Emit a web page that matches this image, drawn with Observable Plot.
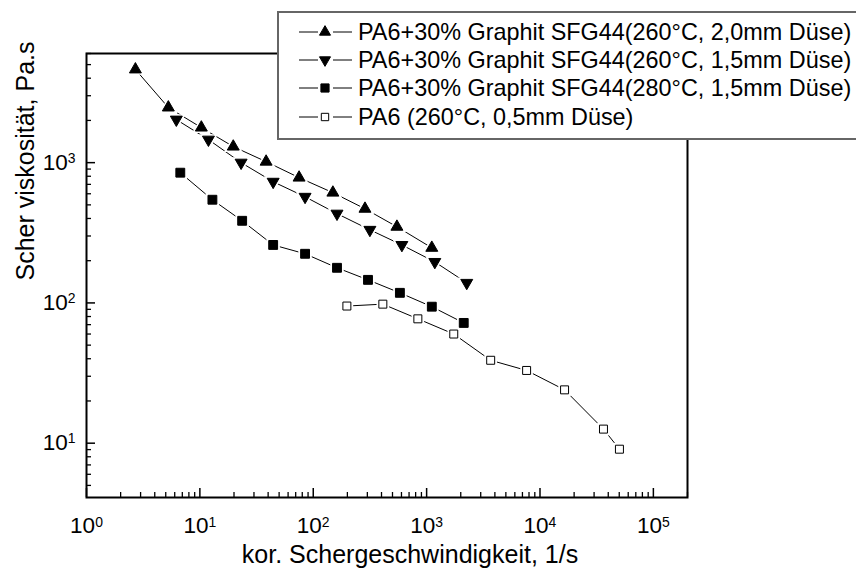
<!DOCTYPE html>
<html><head><meta charset="utf-8">
<script src="https://cdn.jsdelivr.net/npm/d3@7"></script>
<script src="https://cdn.jsdelivr.net/npm/@observablehq/plot@0.6"></script>
<style>
html,body{margin:0;padding:0;background:#fff;overflow:hidden}
#wrap{position:relative;width:856px;height:568px;overflow:hidden;font-family:"Liberation Sans",Arial,sans-serif}
#wrap svg{display:block}
#legend{position:absolute;left:0;top:0;pointer-events:none}
</style></head><body><div id="wrap"></div>
<script>
// ---- data ----
const seriesNames = [
  "PA6+30% Graphit SFG44(260°C, 2,0mm Düse)",
  "PA6+30% Graphit SFG44(260°C, 1,5mm Düse)",
  "PA6+30% Graphit SFG44(280°C, 1,5mm Düse)",
  "PA6 (260°C, 0,5mm Düse)"
];
const shear1 = [2.7, 5.27, 10.3, 19.7, 38.4, 75, 149, 286, 547, 1111];
const visc1  = [4617, 2472, 1778, 1301, 1016, 782, 611, 469, 349, 247];
const shear2 = [6.2, 11.9, 23.1, 44.3, 84.7, 162, 316, 605, 1181, 2259];
const visc2  = [2028, 1460, 1000, 731, 571, 433, 332, 259, 196, 139];
const shear3 = [6.72, 12.9, 23.6, 44.3, 84.7, 162, 304, 581, 1111, 2125];
const visc3  = [848, 544, 385, 259, 224, 178, 146, 118, 94, 72];
const shear4 = [198, 411, 837, 1735, 3673, 7620, 16470, 36300, 50200];
const visc4  = [95, 98, 77, 60, 39, 33, 24, 12.6, 9.06];
const xTickValues = [1, 10, 100, 1000, 10000, 100000];
const yTickValues = [10, 100, 1000];
const xDomain = [1, 2e5];
const yDomain = [4.1, 6000];
const xTitle = "kor. Schergeschwindigkeit, 1/s";
const yTitle = "Scher viskosität, Pa.s";

// ---- symbols ----
const triUp = {draw(ctx, size){const r=Math.sqrt(size/Math.PI), s=r*2.6, h=s*Math.sqrt(3)/2;
  ctx.moveTo(0,-2*h/3); ctx.lineTo(s/2,h/3); ctx.lineTo(-s/2,h/3); ctx.closePath();}};
const triDown = {draw(ctx, size){const r=Math.sqrt(size/Math.PI), s=r*2.6, h=s*Math.sqrt(3)/2;
  ctx.moveTo(0,2*h/3); ctx.lineTo(s/2,-h/3); ctx.lineTo(-s/2,-h/3); ctx.closePath();}};
const sq = {draw(ctx, size){const r=Math.sqrt(size/Math.PI), s=r*1.772;
  ctx.rect(-s/2,-s/2,s,s);}};

const series = [
  {x: shear1, y: visc1, symbol: triUp, r: 4.6, fill: "black"},
  {x: shear2, y: visc2, symbol: triDown, r: 4.6, fill: "black"},
  {x: shear3, y: visc3, symbol: sq, r: 5.0, fill: "black"},
  {x: shear4, y: visc4, symbol: sq, r: 4.5, fill: "white"}
];
const rows = series.flatMap((s, i) => s.x.map((x, j) => ({series: i, x, y: s.y[j]})));

function minorTicks([lo, hi]) {
  const out = [];
  for (let k = Math.floor(Math.log10(lo)); k <= Math.ceil(Math.log10(hi)); k++)
    for (let m = 2; m <= 9; m++) { const v = m * 10 ** k; if (v >= lo && v <= hi) out.push(v); }
  return out;
}
const fmt = d => "10^" + Math.round(Math.log10(d));

const marks = [
  Plot.frame({stroke: "black", strokeWidth: 2}),
  Plot.axisX(minorTicks(xDomain), {tickSize: 5, dy: -5, fill: "none", strokeWidth: 1.3, label: null}),
  Plot.axisX(xTickValues, {tickSize: 9, dy: -9, fill: "none", strokeWidth: 1.5, label: null}),
  Plot.axisX(xTickValues, {stroke: "none", tickSize: 0, tickPadding: 20, tickFormat: fmt, fontSize: 22.5, label: null}),
  Plot.axisY(minorTicks(yDomain), {tickSize: 5, dx: 5, fill: "none", strokeWidth: 1.3, label: null}),
  Plot.axisY(yTickValues, {tickSize: 9, dx: 9, fill: "none", strokeWidth: 1.5, label: null}),
  Plot.axisY(yTickValues, {stroke: "none", tickSize: 0, tickPadding: 11, tickFormat: fmt, fontSize: 22.5, label: null}),
  Plot.line(rows, {x: "x", y: "y", z: "series", stroke: "black", strokeWidth: 1})
];
series.forEach((s, i) => {
  const d = rows.filter(r => r.series === i);
  marks.push(Plot.dot(d, {x: "x", y: "y", symbol: s.symbol, r: s.r + 2.6, fill: "white", stroke: "none"}));
});
series.forEach((s, i) => {
  const d = rows.filter(r => r.series === i);
  marks.push(Plot.dot(d, {x: "x", y: "y", symbol: s.symbol, r: s.r, fill: s.fill, stroke: "black", strokeWidth: 1}));
});
marks.push(Plot.text([xTitle], {text: d => d, frameAnchor: "bottom", lineAnchor: "bottom", dx: 23, dy: 65, fontSize: 25, fill: "black"}));
marks.push(Plot.text([yTitle], {text: d => d, frameAnchor: "left", rotate: -90, dx: -61, dy: 5, fontSize: 25, fill: "black"}));

const chart = Plot.plot({
  width: 856, height: 568,
  marginLeft: 86, marginRight: 169, marginTop: 53, marginBottom: 71,
  style: {fontFamily: '"Liberation Sans", Arial, sans-serif', fontSize: "22px", color: "black", background: "white"},
  x: {type: "log", domain: xDomain, label: null},
  y: {type: "log", domain: yDomain, label: null},
  marks
});

// superscript exponents in tick labels
d3.select(chart).selectAll("text").each(function() {
  const m = /^10\^(-?\d+)$/.exec(this.textContent);
  if (m) {
    this.textContent = "";
    const s = d3.select(this);
    s.append("tspan").text("10");
    s.append("tspan").attr("dy", "-0.5em").attr("font-size", "0.62em").text(m[1]);
  }
});
const wrap = document.getElementById("wrap");
wrap.appendChild(chart);

// legend overlay
const lg = d3.select(wrap).append("svg").attr("id", "legend").attr("width", 856).attr("height", 568);
lg.append("rect").attr("x", 278).attr("y", 12).attr("width", 620).attr("height", 127)
  .attr("fill", "white").attr("stroke", "#666").attr("stroke-width", 2);
const rowY = [32, 60, 88, 117];
seriesNames.forEach((name, i) => {
  const y = rowY[i];
  const g = lg.append("g");
  g.append("line").attr("x1", 299).attr("x2", 318).attr("y1", y).attr("y2", y).attr("stroke", "black").attr("stroke-width", 1);
  g.append("line").attr("x1", 333).attr("x2", 352).attr("y1", y).attr("y2", y).attr("stroke", "black").attr("stroke-width", 1);
  g.append("path").attr("transform", `translate(325,${y})`)
    .attr("d", d3.symbol(series[i].symbol, Math.PI * series[i].r ** 2 * 0.85)())
    .attr("fill", series[i].fill).attr("stroke", "black").attr("stroke-width", 1);
  g.append("text").attr("x", 358).attr("y", y).attr("dy", "0.35em")
    .attr("font-family", '"Liberation Sans", Arial, sans-serif').attr("font-size", 23.4).attr("fill", "black").text(name);
});
</script></body></html>
